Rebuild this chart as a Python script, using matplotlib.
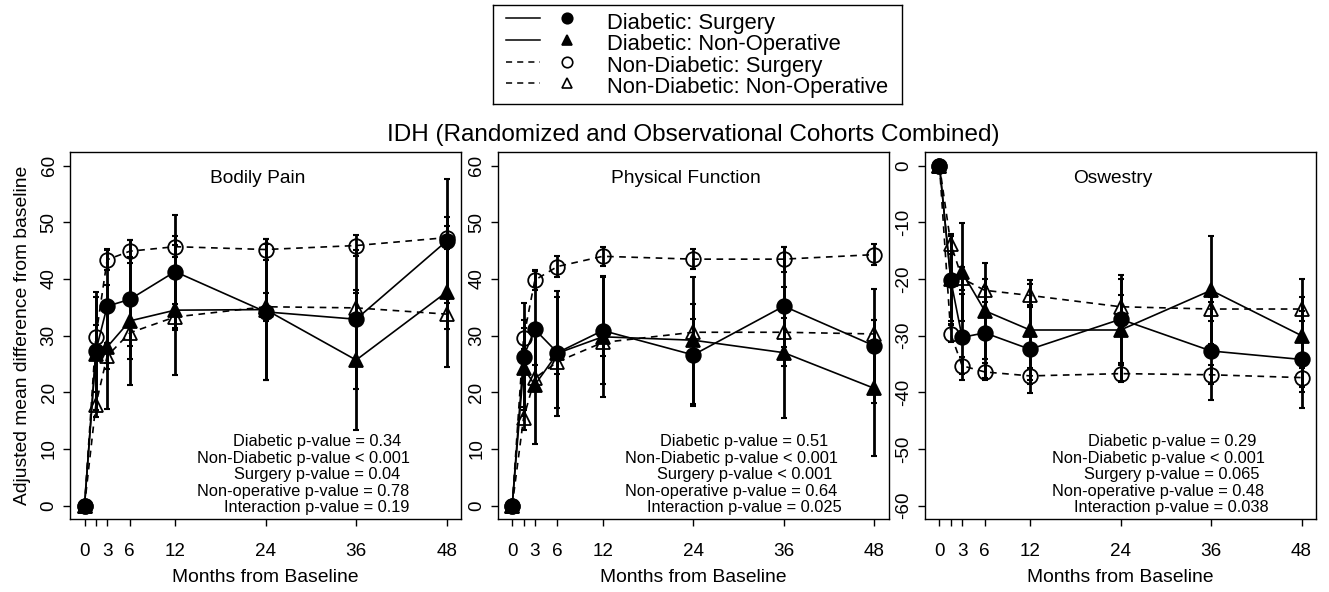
import matplotlib
matplotlib.use("Agg")
import matplotlib.pyplot as plt

plt.rcParams['font.family'] = ['Liberation Sans', 'DejaVu Sans']

# -------------------------
# DATA
# -------------------------
months = [0, 1.5, 3, 6, 12, 24, 36, 48]
tick_months = [0, 1.5, 3, 6, 12, 24, 36, 48]
tick_labels = ["0", "", "3", "6", "12", "24", "36", "48"]

series_names = ["Diabetic: Surgery", "Diabetic: Non-Operative",
                "Non-Diabetic: Surgery", "Non-Diabetic: Non-Operative"]

# Bodily Pain
bp_dia_surg = [0, 27.3, 35.2, 36.4, 41.3, 34.2, 32.9, 46.7]
bp_dia_surg_err = [0, 10.4, 10.0, 10.5, 10.0, 12.0, 12.3, 11.0]
bp_dia_nonop = [0, 26.8, 28.0, 32.6, 34.5, 34.6, 25.7, 37.7]
bp_dia_nonop_err = [0, 10.0, 11.0, 11.3, 11.5, 12.4, 12.3, 13.3]
bp_nd_surg = [0, 29.8, 43.4, 44.9, 45.7, 45.2, 45.9, 47.3]
bp_nd_surg_err = [0, 2.0, 1.9, 2.0, 1.8, 1.8, 1.9, 2.0]
bp_nd_nonop = [0, 17.8, 26.4, 30.5, 33.3, 35.1, 34.9, 33.8]
bp_nd_nonop_err = [0, 2.2, 2.3, 2.4, 2.3, 2.5, 2.7, 2.6]
bp_pvals = ["Diabetic p-value = 0.34", "Non-Diabetic p-value < 0.001",
            "Surgery p-value = 0.04", "Non-operative p-value = 0.78",
            "Interaction p-value = 0.19"]

# Physical Function
pf_dia_surg = [0, 26.3, 31.1, 27.0, 30.9, 26.6, 35.2, 28.2]
pf_dia_surg_err = [0, 9.5, 10.3, 9.8, 9.5, 9.0, 10.5, 10.0]
pf_dia_nonop = [0, 24.3, 21.3, 26.9, 29.8, 29.2, 27.0, 20.7]
pf_dia_nonop_err = [0, 8.5, 10.5, 11.0, 10.7, 11.2, 11.5, 12.0]
pf_nd_surg = [0, 29.5, 39.8, 42.2, 44.0, 43.5, 43.5, 44.3]
pf_nd_surg_err = [0, 1.8, 1.8, 1.8, 1.7, 1.8, 2.2, 1.9]
pf_nd_nonop = [0, 15.4, 22.5, 25.4, 28.8, 30.6, 30.6, 30.3]
pf_nd_nonop_err = [0, 2.0, 2.3, 2.2, 2.3, 2.3, 2.6, 2.5]
pf_pvals = ["Diabetic p-value = 0.51", "Non-Diabetic p-value < 0.001",
            "Surgery p-value < 0.001", "Non-operative p-value = 0.64",
            "Interaction p-value = 0.025"]

# Oswestry
odi_dia_surg = [0, -20.2, -30.3, -29.5, -32.4, -27.1, -32.7, -34.2]
odi_dia_surg_err = [0, 7.8, 7.6, 8.0, 7.8, 7.8, 8.7, 8.5]
odi_dia_nonop = [0, -20.0, -18.8, -25.6, -29.0, -29.0, -22.0, -30.0]
odi_dia_nonop_err = [0, 7.5, 8.7, 8.5, 8.8, 9.0, 9.5, 10.0]
odi_nd_surg = [0, -29.7, -35.3, -36.4, -37.1, -36.7, -36.9, -37.4]
odi_nd_surg_err = [0, 1.5, 1.5, 1.5, 1.4, 1.5, 1.7, 1.7]
odi_nd_nonop = [0, -13.8, -19.9, -22.0, -22.9, -24.9, -25.3, -25.3]
odi_nd_nonop_err = [0, 1.8, 2.0, 2.0, 2.0, 2.0, 2.2, 2.2]
odi_pvals = ["Diabetic p-value = 0.29", "Non-Diabetic p-value < 0.001",
             "Surgery p-value = 0.065", "Non-operative p-value = 0.48",
             "Interaction p-value = 0.038"]

pos_yticks = [0, 10, 20, 30, 40, 50, 60]
neg_yticks = [0, -10, -20, -30, -40, -50, -60]

# -------------------------
# STYLES
# -------------------------
styles = [
    dict(ls='-', marker='o', mfc='black', ms=10.5),
    dict(ls='-', marker='^', mfc='black', ms=10),
    dict(ls=(0, (4, 3.3)), marker='o', mfc='none', ms=10.5),
    dict(ls=(0, (4, 3.3)), marker='^', mfc='none', ms=10),
]

panels = [
    ("Bodily Pain",
     [bp_dia_surg, bp_dia_nonop, bp_nd_surg, bp_nd_nonop],
     [bp_dia_surg_err, bp_dia_nonop_err, bp_nd_surg_err, bp_nd_nonop_err],
     pos_yticks, (-2.4, 62.4), bp_pvals),
    ("Physical Function",
     [pf_dia_surg, pf_dia_nonop, pf_nd_surg, pf_nd_nonop],
     [pf_dia_surg_err, pf_dia_nonop_err, pf_nd_surg_err, pf_nd_nonop_err],
     pos_yticks, (-2.4, 62.4), pf_pvals),
    ("Oswestry",
     [odi_dia_surg, odi_dia_nonop, odi_nd_surg, odi_nd_nonop],
     [odi_dia_surg_err, odi_dia_nonop_err, odi_nd_surg_err, odi_nd_nonop_err],
     neg_yticks, (-62.4, 2.4), odi_pvals),
]

# -------------------------
# FIGURE
# -------------------------
fig = plt.figure(figsize=(13.29, 5.92), dpi=100)
axes_lefts = [0.0527, 0.3745, 0.6960]
pval_x = [0.631, 0.598, 0.632, 0.596, 0.631]
pval_y = [0.212, 0.166, 0.121, 0.076, 0.031]

for i, (name, ys, errs, yt, ylim, pvals) in enumerate(panels):
    ax = fig.add_axes([axes_lefts[i], 0.1228, 0.2943, 0.6204])
    for y, e, st in zip(ys, errs, styles):
        ax.errorbar(months[1:], y[1:], yerr=e[1:], fmt='none', ecolor='black',
                    elinewidth=2.0, capsize=2.5, capthick=1.5, zorder=2)
        ax.plot(months, y, color='black', lw=1.2, linestyle=st['ls'],
                marker=st['marker'], markersize=st['ms'],
                markerfacecolor=st['mfc'], markeredgecolor='black',
                markeredgewidth=1.3, zorder=3)
    ax.set_xlim(-1.92, 49.92)
    ax.set_ylim(*ylim)
    ax.set_xticks(tick_months, labels=tick_labels)
    ax.set_yticks(yt, labels=[str(v) for v in yt], rotation=90, va='center')
    ax.tick_params(axis='x', length=5, width=1, pad=12, labelsize=13.6)
    ax.tick_params(axis='y', length=5, width=1, pad=4, labelsize=13.6)
    for sp in ax.spines.values():
        sp.set_linewidth(1.0)
    ax.set_xlabel("Months from Baseline", fontsize=13.9)
    ax.xaxis.set_label_coords(0.5, -0.136)
    ax.text(0.481, 0.927, name, transform=ax.transAxes, ha='center',
            va='center', fontsize=13.8)
    for t, px, py in zip(pvals, pval_x, pval_y):
        ax.text(px, py, t, transform=ax.transAxes, ha='center', va='center',
                fontsize=11.8)
    if i == 0:
        ax.set_ylabel("Adjusted mean difference from baseline", fontsize=13.9,
                      va='center')
        ax.yaxis.set_label_coords(-0.1225, 0.5)

fig.text(0.5214, 0.7618, "IDH (Randomized and Observational Cohorts Combined)",
         ha='center', va='baseline', fontsize=17.5)

# -------------------------
# LEGEND (R-style: line, then symbol, then label)
# -------------------------
lax = fig.add_axes([0.3712, 0.8238, 0.3073, 0.1677])
lax.set_xlim(0, 1)
lax.set_ylim(0, 1)
lax.set_xticks([])
lax.set_yticks([])
for sp in lax.spines.values():
    sp.set_linewidth(1.0)
sym_y = [0.866, 0.648, 0.429, 0.218]
txt_y = [0.758, 0.547, 0.328, 0.117]
for st, label, sy, ty in zip(styles, series_names, sym_y, txt_y):
    lax.plot([0.031, 0.114], [sy, sy], color='black', lw=1.1, linestyle=st['ls'])
    lax.plot([0.180], [sy], linestyle='none', marker=st['marker'],
             markersize=st['ms'] * 0.72, markerfacecolor=st['mfc'],
             markeredgecolor='black', markeredgewidth=1.2)
    lax.text(0.2777, ty, label, ha='left', va='baseline', fontsize=15.8)

fig.savefig("out.png", dpi=100)
